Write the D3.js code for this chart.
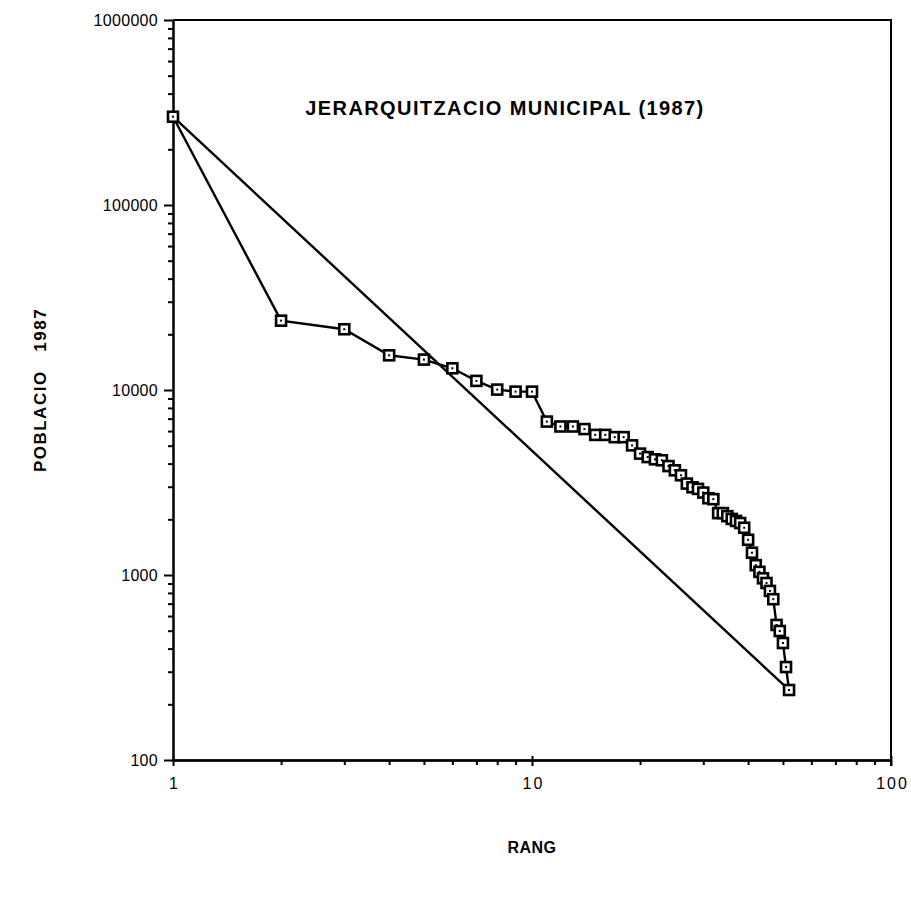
<!DOCTYPE html>
<html>
<head>
<meta charset="utf-8">
<script src="https://cdn.jsdelivr.net/npm/d3@7"></script>
<style>
  body { margin: 0; background: #fff; }
  svg { display: block; font-family: "Liberation Sans", Arial, sans-serif; }
  .axis path, .axis line { stroke: #000; stroke-width: 2; }
  .axis text { fill: #000; }
</style>
</head>
<body>
<div id="chart"></div>
<script>
// poblacio 1987 per rang (llegit del grafic)
var poblacio = [300000, 23700, 21300, 15400, 14600, 13100, 11200, 10050, 9800, 9800,
  6750, 6350, 6350, 6150, 5720, 5720, 5560, 5560, 5020, 4530,
  4340, 4220, 4170, 3880, 3680, 3460, 3120, 2980, 2920, 2790,
  2600, 2570, 2160, 2160, 2080, 2010, 1960, 1910, 1800, 1550,
  1320, 1130, 1040, 960, 905, 820, 740, 537, 498, 429,
  318, 239];
var rang = poblacio.map(function (d, i) { return i + 1; });

var xTicks = [1, 10, 100];
var yTicks = [100, 1000, 10000, 100000, 1000000];
var titol = 'JERARQUITZACIO MUNICIPAL (1987)';
var xTitol = 'RANG';
var yTitol = 'POBLACIO   1987';

var width = 911;
var height = 899;

var x = d3.scaleLog().domain([1, 100]).range([173, 891]);
var y = d3.scaleLog().domain([100, 1000000]).range([760, 20]);

var punts = rang.map(function (r, i) {
  return { rang: r, poblacio: poblacio[i] };
});
var recta = [punts[0], punts[punts.length - 1]];

var svg = d3.select('#chart').append('svg')
  .attr('width', width)
  .attr('height', height);

// marc superior i dret
svg.append('path')
  .attr('d', 'M' + x(1) + ',' + y(1000000) + 'H' + x(100) + 'V' + (y(100) + 6))
  .attr('fill', 'none')
  .attr('stroke', '#000')
  .attr('stroke-width', 2);

// eix Y
var yMinor = y.ticks().filter(function (d) { return yTicks.indexOf(d) < 0; });
svg.append('g')
  .attr('class', 'axis')
  .attr('transform', 'translate(' + x(1) + ',0)')
  .call(d3.axisLeft(y).tickValues(yMinor).tickSize(5).tickSizeOuter(0).tickFormat(''));
svg.append('g')
  .attr('class', 'axis')
  .attr('transform', 'translate(' + x(1) + ',0)')
  .call(d3.axisLeft(y).tickValues(yTicks).tickSize(9).tickSizeOuter(0).tickPadding(6)
    .tickFormat(d3.format('d')))
  .selectAll('text')
  .style('font-size', '16px')
  .style('letter-spacing', '0.3px');

// eix X
var xMinor = x.ticks().filter(function (d) { return xTicks.indexOf(d) < 0; });
svg.append('g')
  .attr('class', 'axis')
  .attr('transform', 'translate(0,' + y(100) + ')')
  .call(d3.axisBottom(x).tickValues(xMinor).tickSize(5).tickSizeOuter(0).tickFormat(''));
svg.append('g')
  .attr('class', 'axis')
  .attr('transform', 'translate(0,' + y(100) + ')')
  .call(d3.axisBottom(x).tickValues(xTicks).tickSize(6).tickSizeOuter(0).tickPadding(12)
    .tickFormat(d3.format('d')))
  .selectAll('text')
  .style('font-size', '16px')
  .style('letter-spacing', '2px')
  .attr('dx', '1px');
svg.append('g')
  .attr('class', 'axis')
  .attr('transform', 'translate(0,' + y(100) + ')')
  .call(d3.axisTop(x).tickValues(xTicks).tickSize(4).tickSizeOuter(0).tickFormat(''));
svg.selectAll('.axis .domain').attr('stroke-width', 2);

var line = d3.line()
  .x(function (d) { return x(d.rang); })
  .y(function (d) { return y(d.poblacio); });

svg.append('path')
  .datum(recta)
  .attr('d', line)
  .attr('fill', 'none')
  .attr('stroke', '#000')
  .attr('stroke-width', 2.4);

svg.append('path')
  .datum(punts)
  .attr('d', line)
  .attr('fill', 'none')
  .attr('stroke', '#000')
  .attr('stroke-width', 2.4);

var marca = svg.append('g').selectAll('g')
  .data(punts)
  .enter().append('g')
  .attr('transform', function (d) {
    return 'translate(' + x(d.rang) + ',' + y(d.poblacio) + ')';
  });
marca.append('rect')
  .attr('x', -5).attr('y', -5)
  .attr('width', 10).attr('height', 10)
  .attr('fill', '#fff')
  .attr('stroke', '#000')
  .attr('stroke-width', 2.6);
marca.append('rect')
  .attr('x', -1).attr('y', -1)
  .attr('width', 2).attr('height', 2)
  .attr('fill', '#000');

// titols
svg.append('text')
  .attr('x', 505)
  .attr('y', 115)
  .attr('text-anchor', 'middle')
  .style('font-size', '20px')
  .style('font-weight', 'bold')
  .style('letter-spacing', '1.4px')
  .text(titol);

svg.append('text')
  .attr('x', 532)
  .attr('y', 853)
  .attr('text-anchor', 'middle')
  .style('font-size', '16px')
  .style('font-weight', 'bold')
  .style('letter-spacing', '0.5px')
  .text(xTitol);

svg.append('text')
  .attr('transform', 'translate(46,390)rotate(270)')
  .attr('text-anchor', 'middle')
  .style('font-size', '17px')
  .style('font-weight', 'bold')
  .style('letter-spacing', '1.5px')
  .style('white-space', 'pre')
  .text(yTitol);
</script>
</body>
</html>
